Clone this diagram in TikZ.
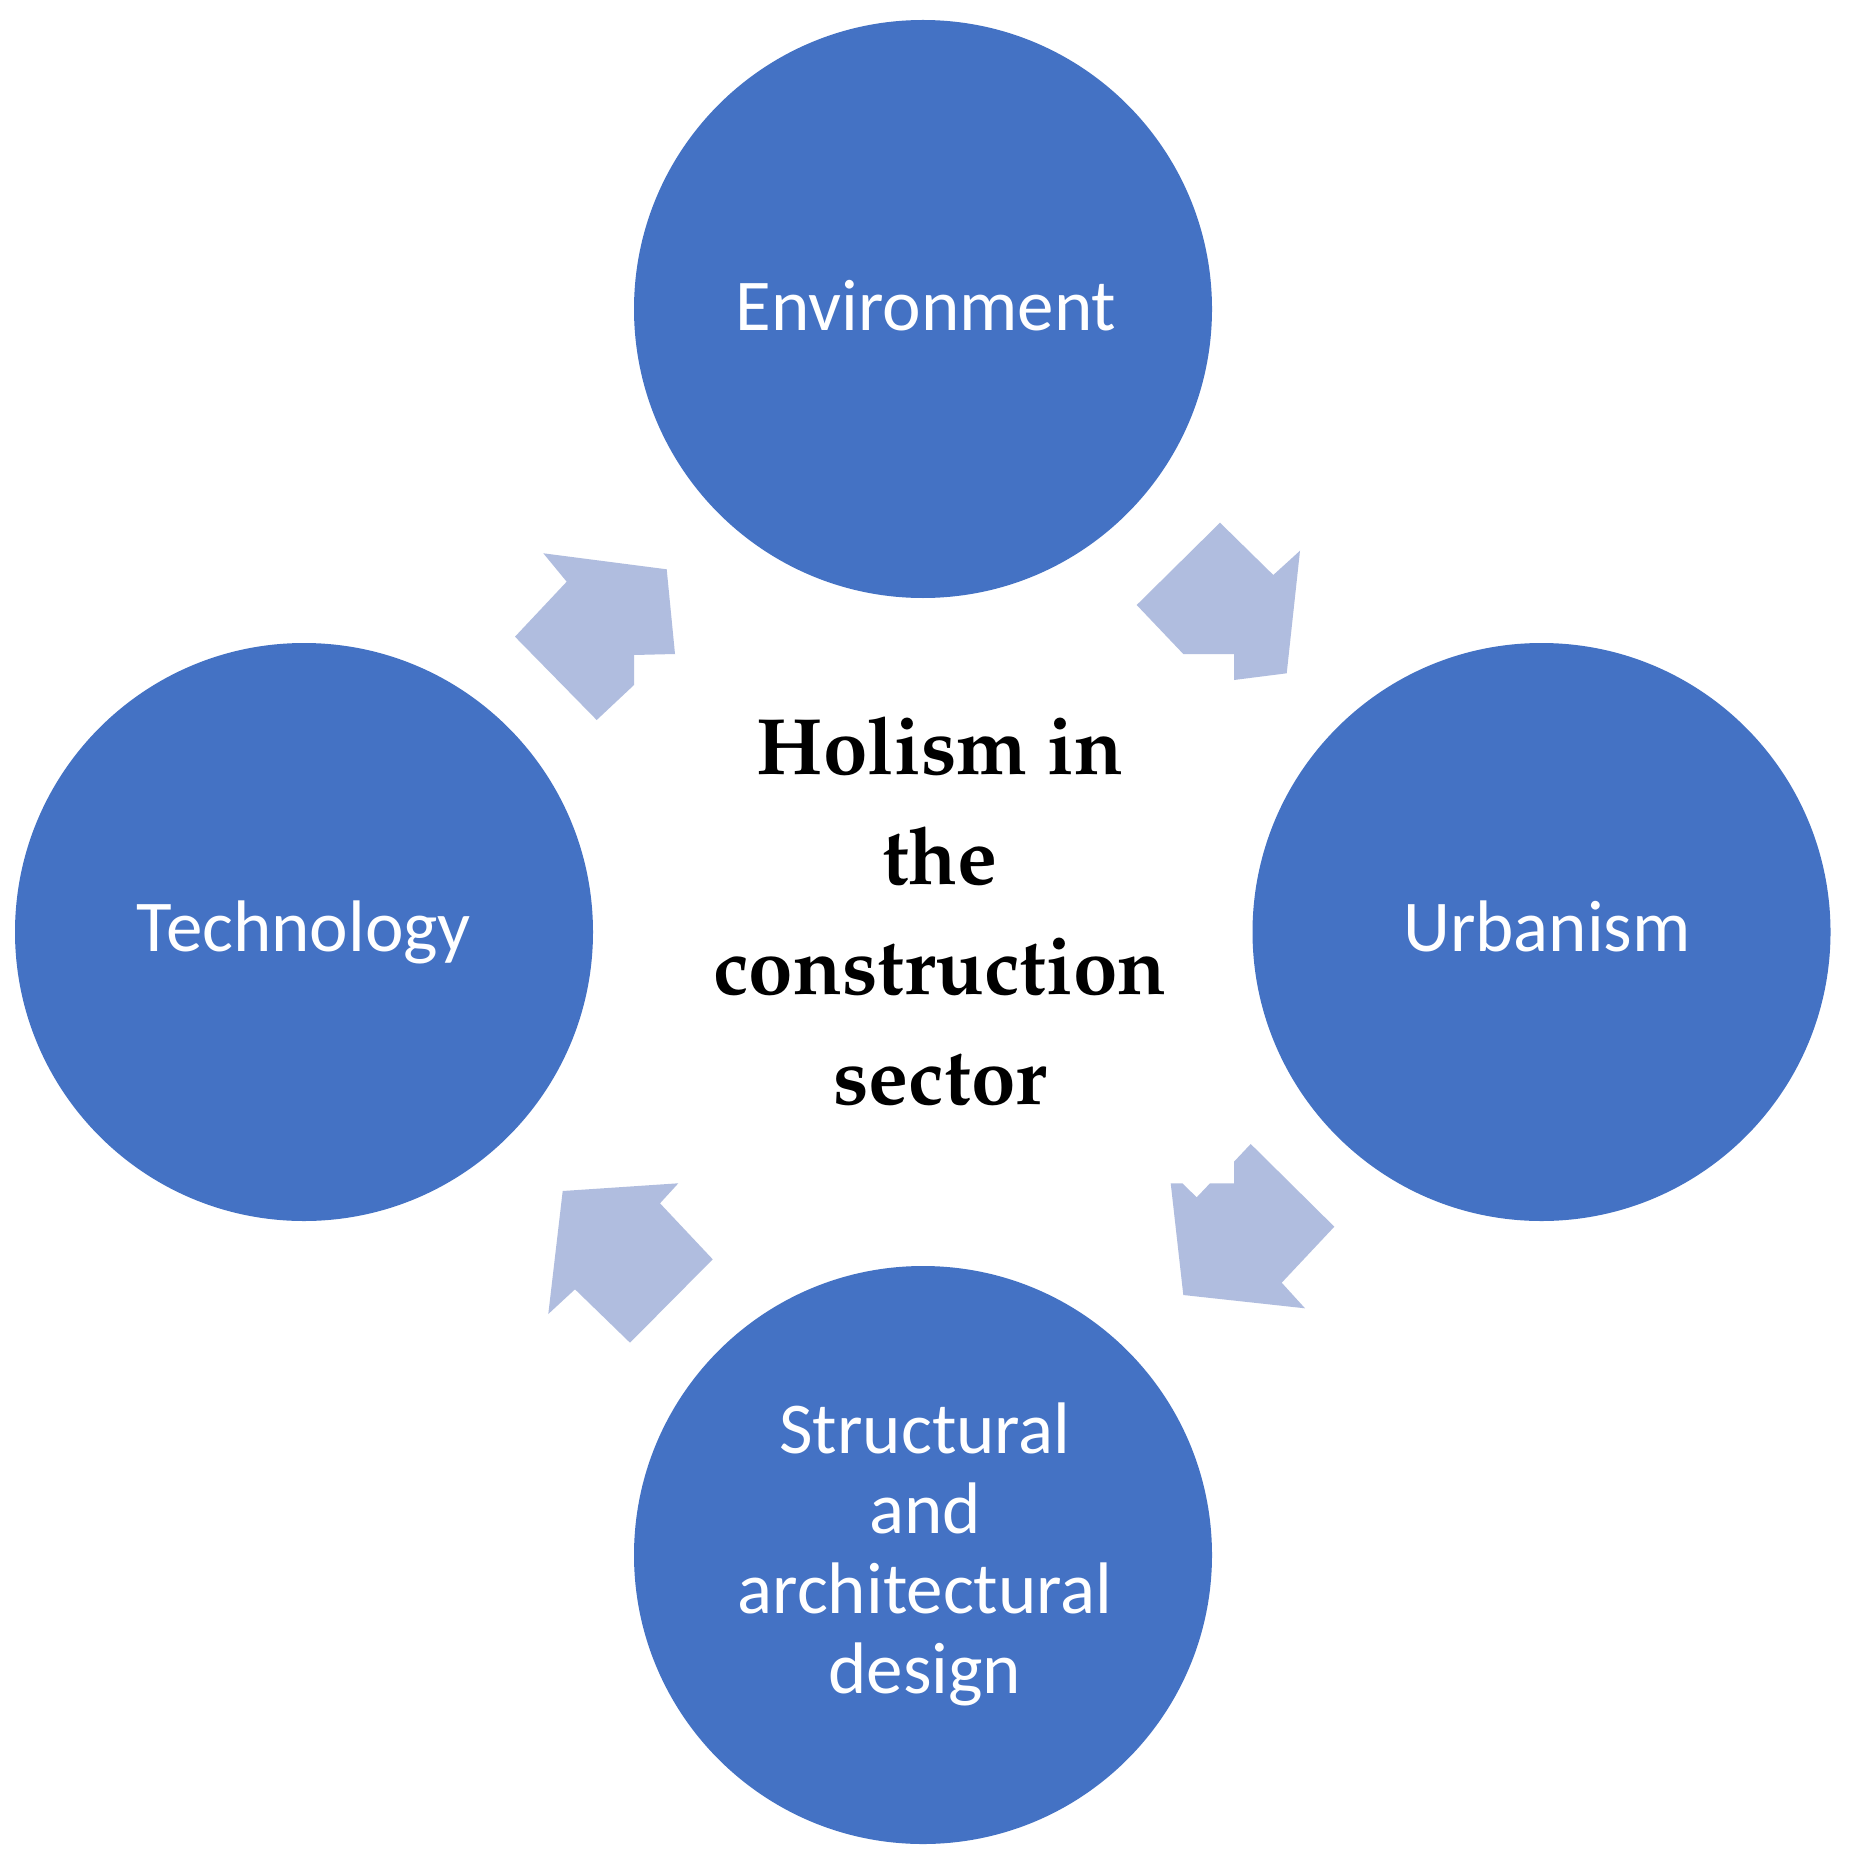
\documentclass[tikz,border=0pt]{standalone}
\usepackage[T1]{fontenc}
\usepackage{fontspec}
\newfontfamily\carlito{Carlito}
\IfFileExists{t1qpl.fd}{%
  \newcommand\hubfont{\fontencoding{T1}\fontfamily{qpl}\fontseries{b}\fontshape{n}\fontsize{40}{55}\selectfont}%
}{%
  \IfFileExists{t1ppl.fd}{%
    \newcommand\hubfont{\fontencoding{T1}\fontfamily{ppl}\fontseries{b}\fontshape{n}\fontsize{40}{55}\selectfont}%
  }{%
    \newfontfamily\libserif{Liberation Serif}%
    \newcommand\hubfont{\libserif\bfseries\fontsize{42}{55}\selectfont}%
  }%
}
\definecolor{discblue}{HTML}{4472C4}
\definecolor{arrowblue}{HTML}{B0BDDF}
\tikzset{
  disc/.style={circle, fill=discblue, draw=none, inner sep=0pt, minimum size=289pt},
  disclabel/.style={text=white, inner sep=0pt, align=center,
    font=\carlito\fontsize{36.5}{40}\selectfont},
  hubtext/.style={text=black, inner sep=0pt, align=center, font=\hubfont},
  cyclearrow/.style={fill=arrowblue, draw=none}
}
\begin{document}
\begin{tikzpicture}[x=0.5pt,y=-0.5pt]
\useasboundingbox (0,0) rectangle (1848,1861);
\fill[white] (0,0) rectangle (1848,1861);

% circles
\node[disc] (env) at (923,309) {};
\node[disc] (tech) at (304,932) {};
\node[disc] (urb) at (1541.5,932) {};
\node[disc] (design) at (923,1555) {};

% labels (multi-line nodes: base = baseline of last line)
\node[disclabel, anchor=base] (envlabel) at (926,331) {Environment};
\node[disclabel, anchor=base] (techlabel) at (304,951) {Technology};
\node[disclabel, anchor=base] (urblabel) at (1547,951) {Urbanism};
\node[disclabel, anchor=base] (designlabel) at (925,1693) {Structural\\and\\architectural\\design};

% centre text
\node[hubtext, anchor=base] (hub) at (940,1104) {Holism in\\the\\construction\\sector};

% arrows
\fill[cyclearrow] (543.3,553.3) -- (666.7,569.3) -- (675,654) -- (634,655) -- (634,685)
  -- (596.7,720) -- (515,636.7) -- (566.7,581.7) -- cycle;
\fill[cyclearrow] (1220,522.7) -- (1273.3,575) -- (1300,550.7) -- (1286.7,673.3)
  -- (1234,680) -- (1234,654) -- (1183.3,654) -- (1136.7,605) -- cycle;
\fill[cyclearrow] (562.7,1191) -- (678.3,1183.3) -- (660,1203.3) -- (712.7,1259.3)
  -- (630,1342.7) -- (575,1289.3) -- (548.3,1314) -- cycle;
\fill[cyclearrow] (1170.7,1183.3) -- (1182.3,1183.3) -- (1196.7,1197.3) -- (1210,1183.3)
  -- (1234,1183.3) -- (1234,1161.7) -- (1250.7,1144) -- (1334.3,1226.7)
  -- (1281.7,1282.7) -- (1305,1308.3) -- (1183.3,1295) -- cycle;
\end{tikzpicture}
\end{document}
